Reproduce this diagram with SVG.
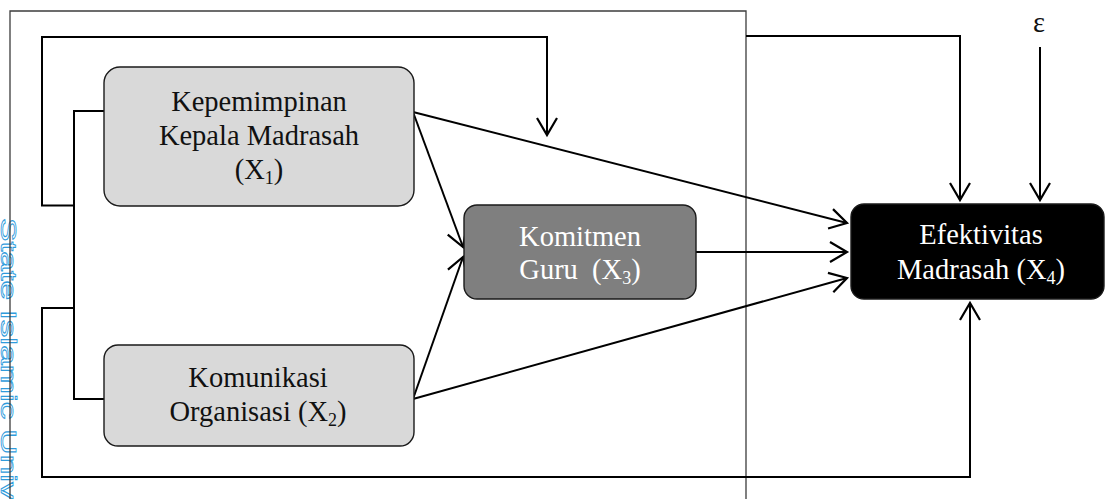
<svg xmlns="http://www.w3.org/2000/svg" width="1107" height="499" viewBox="0 0 1107 499">
  <style>
    .node rect { stroke: #1a1a1a; stroke-width: 1.4; }
    .lbl { font-family: "Liberation Serif", "Times New Roman", serif; font-size: 28.5px; text-anchor: middle; white-space: pre; }
    .sub { font-size: 18px; }
    .dark { fill: #111; }
    .light { fill: #fff; }
    .wire { fill: none; stroke: #000; stroke-width: 2; }
    .arrow { marker-end: url(#vhead); }
    .frame { fill: none; stroke: #3c3c3c; stroke-width: 1.3; }
    .mark { font-family: "Liberation Sans", Arial, sans-serif; font-size: 22px; fill: none; stroke: #2f9bdc; stroke-width: 0.8; }
  </style>
  <defs>
    <!-- open V arrowhead -->
    <marker id="vhead" markerUnits="userSpaceOnUse" viewBox="-20 -12 24 24" markerWidth="24" markerHeight="24" refX="0" refY="0" orient="auto" overflow="visible">
      <path d="M -17 -10 L 0 0 L -17 10" fill="none" stroke="#000" stroke-width="2.2" stroke-linejoin="miter"/>
    </marker>
  </defs>

  <rect width="1107" height="499" fill="#fff"/>

  <!-- vertical watermark along the left edge, glyphs stretched along the reading direction -->
  <text class="mark" transform="translate(1,218) rotate(90) scale(1.6,1)">State Islamic Univ</text>

  <!-- outer frame -->
  <path class="frame" d="M 10 520 L 10 11 L 746 11 L 746 520"/>

  <g id="connectors">
    <!-- bracket joining X1 and X2 -->
    <polyline class="wire" points="104,111 74,111 74,399 104,399"/>
    <!-- upper loop onto the X1 -> X4 path -->
    <polyline class="wire arrow" points="74,205.5 42,205.5 42,37 547,37 547,135"/>
    <!-- lower loop into X4 from below -->
    <polyline class="wire arrow" points="74,308 42,308 42,477 970,477 970,303"/>
    <!-- frame to X4 from above -->
    <polyline class="wire arrow" points="746,36 960,36 960,200"/>
    <!-- error term -->
    <line class="wire arrow" x1="1040" y1="47" x2="1040" y2="200"/>
    <!-- direct paths -->
    <line class="wire arrow" x1="413" y1="112" x2="463" y2="247"/>
    <line class="wire arrow" x1="413" y1="399" x2="463" y2="257"/>
    <line class="wire arrow" x1="413" y1="112" x2="847" y2="223"/>
    <line class="wire arrow" x1="413" y1="399" x2="847" y2="278"/>
    <line class="wire arrow" x1="696" y1="252" x2="847" y2="252"/>
  </g>

  <g id="x1" class="node">
    <rect x="104" y="67" width="310" height="139" rx="16" fill="#d9d9d9"/>
    <text class="lbl dark" x="259" y="111">Kepemimpinan</text>
    <text class="lbl dark" x="259" y="145">Kepala Madrasah</text>
    <text class="lbl dark" x="259" y="179">(X<tspan class="sub" dy="5">1</tspan><tspan dy="-5">)</tspan></text>
  </g>

  <g id="x2" class="node">
    <rect x="104" y="345" width="310" height="101" rx="14" fill="#d9d9d9"/>
    <text class="lbl dark" x="258" y="387">Komunikasi</text>
    <text class="lbl dark" x="258" y="421">Organisasi (X<tspan class="sub" dy="5">2</tspan><tspan dy="-5">)</tspan></text>
  </g>

  <g id="x3" class="node">
    <rect x="464" y="205" width="232" height="94" rx="13" fill="#7f7f7f"/>
    <text class="lbl light" x="580" y="246">Komitmen</text>
    <text class="lbl light" x="580" y="279">Guru  (X<tspan class="sub" dy="5">3</tspan><tspan dy="-5">)</tspan></text>
  </g>

  <g id="x4" class="node">
    <rect x="851" y="204" width="253" height="95" rx="13" fill="#000"/>
    <text class="lbl light" x="981" y="244">Efektivitas</text>
    <text class="lbl light" x="981" y="279">Madrasah (X<tspan class="sub" dy="5">4</tspan><tspan dy="-5">)</tspan></text>
  </g>

  <g id="epsilon">
    <text class="lbl dark" x="1039" y="32">ε</text>
  </g>
</svg>
